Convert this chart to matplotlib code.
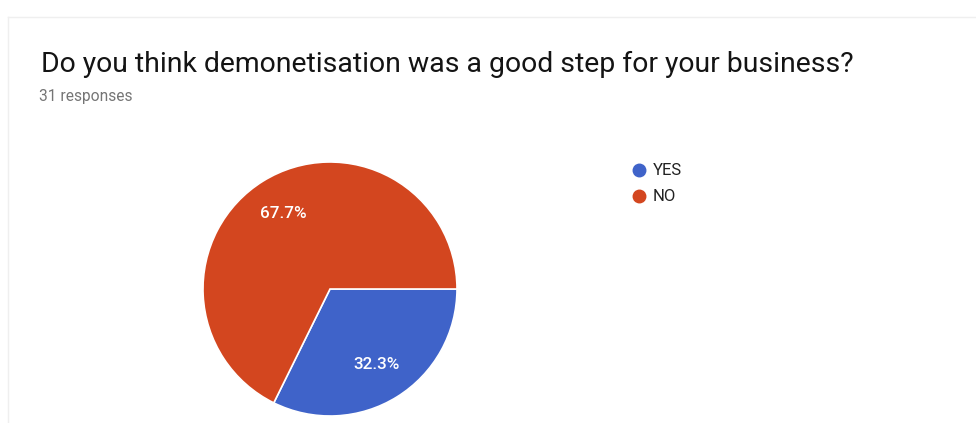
import matplotlib
matplotlib.use("Agg")
import matplotlib.pyplot as plt
from matplotlib.lines import Line2D

# Survey question and responses
question = "Do you think demonetisation was a good step for your business?"
n_responses = 31
categories = ["YES", "NO"]
shares = [32.3, 67.7]
colors = ["#3F63C9", "#D3461F"]

W, H = 976, 423
plt.rcParams["font.family"] = ["Roboto", "DejaVu Sans"]

fig = plt.figure(figsize=(W / 100, H / 100), dpi=100)
ax = fig.add_axes([0, 0, 1, 1])


def y(py):
    """Convert a top-down pixel row to axes y."""
    return H - py


# faint card border
ax.add_line(Line2D([8, W], [y(17), y(17)], color="#efefef", lw=1))
ax.add_line(Line2D([8, 8], [y(17), 0], color="#efefef", lw=1))

# title and response count
ax.text(41, y(72), question, fontsize=20.4, color="#141414",
        ha="left", va="baseline")
ax.text(39, y(101), f"{n_responses} responses", fontsize=11.2,
        color="#757575", ha="left", va="baseline")

# pie, starting at 3 o'clock and running clockwise
wedges, _, autotexts = ax.pie(
    shares, colors=colors, startangle=0, counterclock=False,
    center=(330, y(289)), radius=127, autopct="%1.1f%%", pctdistance=0.7,
    wedgeprops=dict(edgecolor="white", linewidth=1.2),
    textprops=dict(color="white", fontsize=12.3, fontweight="medium"),
)
ax.set_xlim(0, W)
ax.set_ylim(0, H)
ax.set_aspect("equal")
ax.axis("off")

# legend
for i, (lab, col) in enumerate(zip(categories, colors)):
    yy = y(170 + 26 * i)
    ax.plot([639], [yy], marker="o", ms=9, color=col, linestyle="none")
    ax.text(653, yy, lab, fontsize=12, color="#222222",
            ha="left", va="center")

fig.savefig("out.png", dpi=100)
